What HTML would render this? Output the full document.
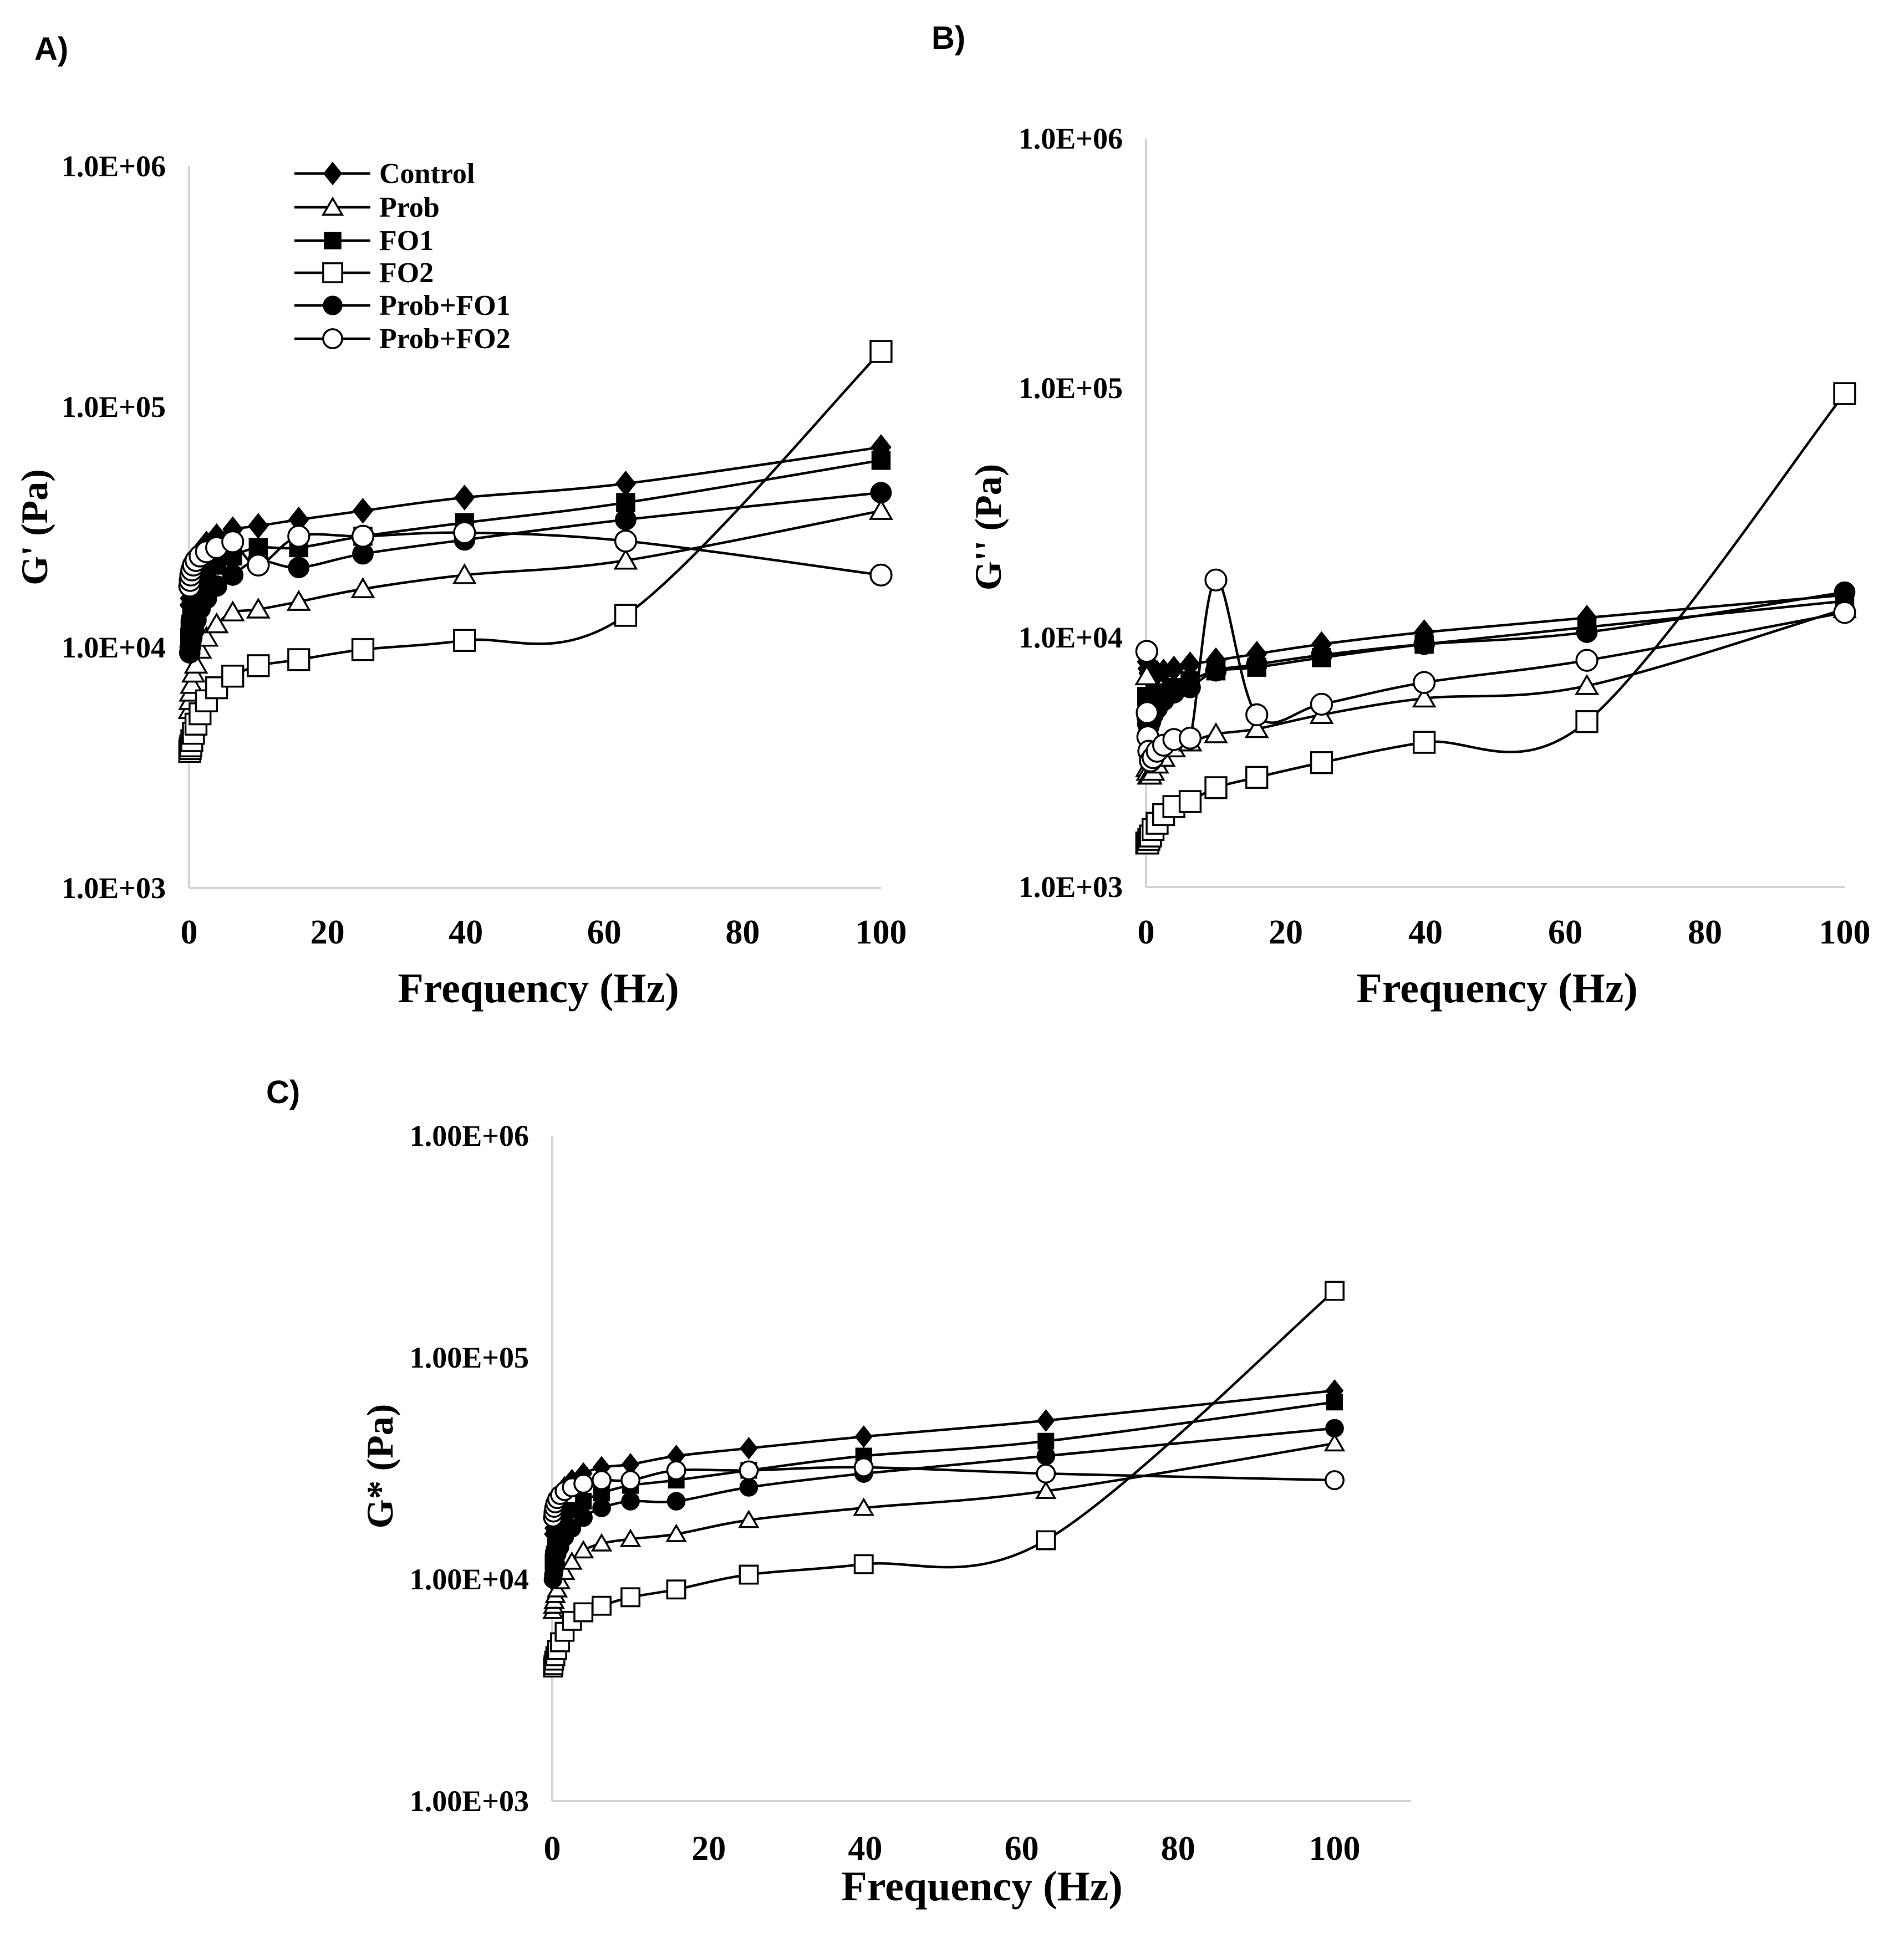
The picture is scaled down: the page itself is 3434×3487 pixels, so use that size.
<!DOCTYPE html>
<html><head><meta charset="utf-8"><style>
html,body{margin:0;padding:0;background:#fff;}
svg{display:block;font-family:"Liberation Serif",serif;}
</style></head><body>
<svg id="fig" width="3434" height="3487" viewBox="0 0 3434 3487" xmlns="http://www.w3.org/2000/svg">
<rect width="3434" height="3487" fill="#fff"/>
<g font-family="Liberation Sans, sans-serif" font-weight="bold" font-size="58">
<text x="62" y="108">A)</text>
<text x="1680" y="88">B)</text>
<text x="480" y="1990">C)</text>
</g>
<g id="plots"></g>
</svg>
<script>
// ---- data ----
const freq = [0.1,0.158,0.251,0.398,0.631,1,1.585,2.512,3.981,6.31,10,15.85,25.12,39.81,63.1,100];
const xTicks = [0,20,40,60,80,100];
const seriesNames = ["Control","Prob","FO1","FO2","Prob+FO1","Prob+FO2"];
const yTicksAB = ["1.0E+03","1.0E+04","1.0E+05","1.0E+06"];
const yTicksC = ["1.00E+03","1.00E+04","1.00E+05","1.00E+06"];
// Panel A: G'
const aControl = [15000,16000,17000,19000,21000,23000,25000,27000,29000,31000,32000,34000,37000,42000,48000,68000];
const aProb    = [5500,6000,6500,7000,7800,8500,9800,11000,12500,14000,14400,15500,17500,20000,23000,37000];
const aFO1     = [11000,12000,12500,13500,14500,16000,18000,20000,22000,24000,26000,26000,29000,33000,40000,60000];
const aFO2     = [3700,3800,3900,4100,4400,4800,5300,6000,6800,7600,8400,8900,9800,10700,13600,170000];
const aPFO1    = [9500,10000,10500,11000,12000,13000,14500,16000,18000,20000,23000,21500,24500,28000,34000,44000];
const aPFO2    = [18000,19000,20000,21000,22000,23000,24000,25000,26000,27500,22000,29000,29000,30000,27700,20000];
// Panel B: G''
const bControl = [8500,8000,7500,7200,7000,7100,7200,7300,7500,7800,8100,8600,9400,10500,12000,14800];
const bProb    = [7000,3000,2900,2800,2800,2900,3100,3300,3600,3800,4100,4300,4900,5700,6400,13000];
const bFO1     = [5800,5500,5300,5200,5300,5500,5700,6000,6300,6700,7350,7600,8300,9400,11000,14000];
const bFO2     = [1500,1500,1500,1550,1600,1700,1800,1950,2100,2200,2500,2750,3150,3800,4600,95000];
const bPFO1    = [5000,4800,4500,4400,4600,4900,5200,5600,6000,6300,7350,7800,8500,9400,10500,15200];
const bPFO2    = [8800,5000,4000,3500,3200,3300,3500,3700,3900,3950,17000,4900,5400,6600,8100,12600];
// Panel C: G*
const cControl = [16000,17000,18000,20000,22000,24000,26000,28000,30000,32000,33000,36000,39000,44000,52000,71000];
const cProb    = [7200,7600,8000,8500,9000,9800,10800,12000,13500,14500,15200,16000,18500,21000,25000,41000];
const cFO1     = [12000,12500,13000,14000,15000,16500,18500,20500,22500,24500,26500,28000,31000,36000,42000,63000];
const cFO2     = [4000,4100,4300,4500,4800,5200,5800,6500,7100,7600,8300,9000,10500,11700,15000,200000];
const cPFO1    = [10000,10500,11000,12000,13000,14000,15500,17000,19000,21000,22500,22500,26000,30000,36000,48000];
const cPFO2    = [19000,20000,21000,22000,23000,24000,25000,26000,27000,28000,28000,31000,31000,32000,30000,28000];

const NS="http://www.w3.org/2000/svg";
function mk(tag,attrs,parent){const e=document.createElementNS(NS,tag);for(const k in attrs)e.setAttribute(k,attrs[k]);if(parent)parent.appendChild(e);return e;}
const root=document.getElementById('plots');

function drawPanel(cfg, data, yLabels, yTitle, key){
  const g=mk('g',{},root);
  
  
  const X=v=>cfg.x0+(v/100)*(cfg.x100-cfg.x0);
  const Y=v=>cfg.yBot-(Math.log10(v)-3)*cfg.dec;
  const ya=mk('line',{x1:cfg.x0,y1:cfg.yBot-3*cfg.dec,x2:cfg.x0,y2:cfg.yBot,stroke:'#d4d4d4','stroke-width':4},g);
  
  
  const xa=mk('line',{x1:cfg.x0,y1:cfg.yBot,x2:cfg.xEnd,y2:cfg.yBot,stroke:'#d4d4d4','stroke-width':4},g);
  
  
  yLabels.forEach((lab,i)=>{
    const t=mk('text',{x:cfg.x0-42,y:cfg.yBot-i*cfg.dec+18,'text-anchor':'end','font-size':54,'font-weight':'bold'},g);
    t.textContent=lab;
    
    
  });
  xTicks.forEach(v=>{
    const t=mk('text',{x:X(v),y:cfg.xLabY,'text-anchor':'middle','font-size':62,'font-weight':'bold'},g);
    t.textContent=v;
    
    
  });
  const xt=mk('text',{x:cfg.xtX,y:cfg.xtY,'text-anchor':'middle','font-size':76,'font-weight':'bold'},g);
  xt.textContent='Frequency (Hz)';
  
  
  const yt=mk('text',{x:0,y:0,'text-anchor':'middle','font-size':68,'font-weight':'bold',transform:`translate(${cfg.ytX},${cfg.ytY}) rotate(-90)`},g);
  yt.textContent=yTitle;
  
  
  data.forEach((vals,si)=>{
    const p=vals.map((v,i)=>[X(freq[i]),Y(v)]);
    let d=`M${p[0][0]},${p[0][1]}`;
    for(let i=0;i<p.length-1;i++){
      const p0=p[Math.max(i-1,0)],p1=p[i],p2=p[i+1],p3=p[Math.min(i+2,p.length-1)];
      const c1=[p1[0]+(p2[0]-p0[0])/6,p1[1]+(p2[1]-p0[1])/6];
      const c2=[p2[0]-(p3[0]-p1[0])/6,p2[1]-(p3[1]-p1[1])/6];
      d+=` C${c1[0]},${c1[1]} ${c2[0]},${c2[1]} ${p2[0]},${p2[1]}`;
    }
    const path=mk('path',{d:d,fill:'none',stroke:'#000','stroke-width':4.5},g);
    
    
  });
  data.forEach((vals,si)=>{
    vals.forEach((v,i)=>{
      const m=marker(g,si,X(freq[i]),Y(v),cfg.ms);
      
      
    });
  });
}
function marker(g,si,x,y,s){
  const blk={fill:'#000',stroke:'#000','stroke-width':3};
  const wht={fill:'#fff',stroke:'#000','stroke-width':3.5};
  if(si===0) return mk('polygon',Object.assign({points:`${x},${y-s} ${x+s*0.8},${y} ${x},${y+s} ${x-s*0.8},${y}`},blk),g);
  if(si===1) return mk('polygon',Object.assign({points:`${x},${y-s*0.85} ${x+s*0.9},${y+s*0.7} ${x-s*0.9},${y+s*0.7}`},wht),g);
  if(si===2) return mk('rect',Object.assign({x:x-s*0.75,y:y-s*0.75,width:s*1.5,height:s*1.5},blk),g);
  if(si===3) return mk('rect',Object.assign({x:x-s*0.9,y:y-s*0.9,width:s*1.8,height:s*1.8},wht),g);
  if(si===4) return mk('circle',Object.assign({cx:x,cy:y,r:s*0.85},blk),g);
  return mk('circle',Object.assign({cx:x,cy:y,r:s*0.9},wht),g);
}

drawPanel({x0:341,x100:1589,xEnd:1589,yBot:1602,dec:434,xLabY:1702,xtX:971,xtY:1808,ytX:85,ytY:951,ms:21},
  [aControl,aProb,aFO1,aFO2,aPFO1,aPFO2],yTicksAB,"G' (Pa)",'panel-a');
drawPanel({x0:2067,x100:3327,xEnd:3327,yBot:1600,dec:450,xLabY:1702,xtX:2700,xtY:1808,ytX:1805,ytY:951,ms:21},
  [bControl,bProb,bFO1,bFO2,bPFO1,bPFO2],yTicksAB,"G'' (Pa)",'panel-b');
drawPanel({x0:996,x100:2407,xEnd:2545,yBot:3249,dec:400,xLabY:3355,xtX:1771,xtY:3428,ytX:708,ytY:2645,ms:18},
  [cControl,cProb,cFO1,cFO2,cPFO1,cPFO2],yTicksC,"G* (Pa)",'panel-c');

const lg=mk('g',{},root);


const legY=[313,374,434,492,551,611];
seriesNames.forEach((n,i)=>{
  const e=mk('g',{},lg);
  
  
  mk('line',{x1:531,y1:legY[i],x2:668,y2:legY[i],stroke:'#000','stroke-width':4.5},e);
  marker(e,i,600,legY[i],19);
  const t=mk('text',{x:684,y:legY[i]+17,'font-size':52,'font-weight':'bold'},e);
  t.textContent=n;
});
</script>
</body></html>
